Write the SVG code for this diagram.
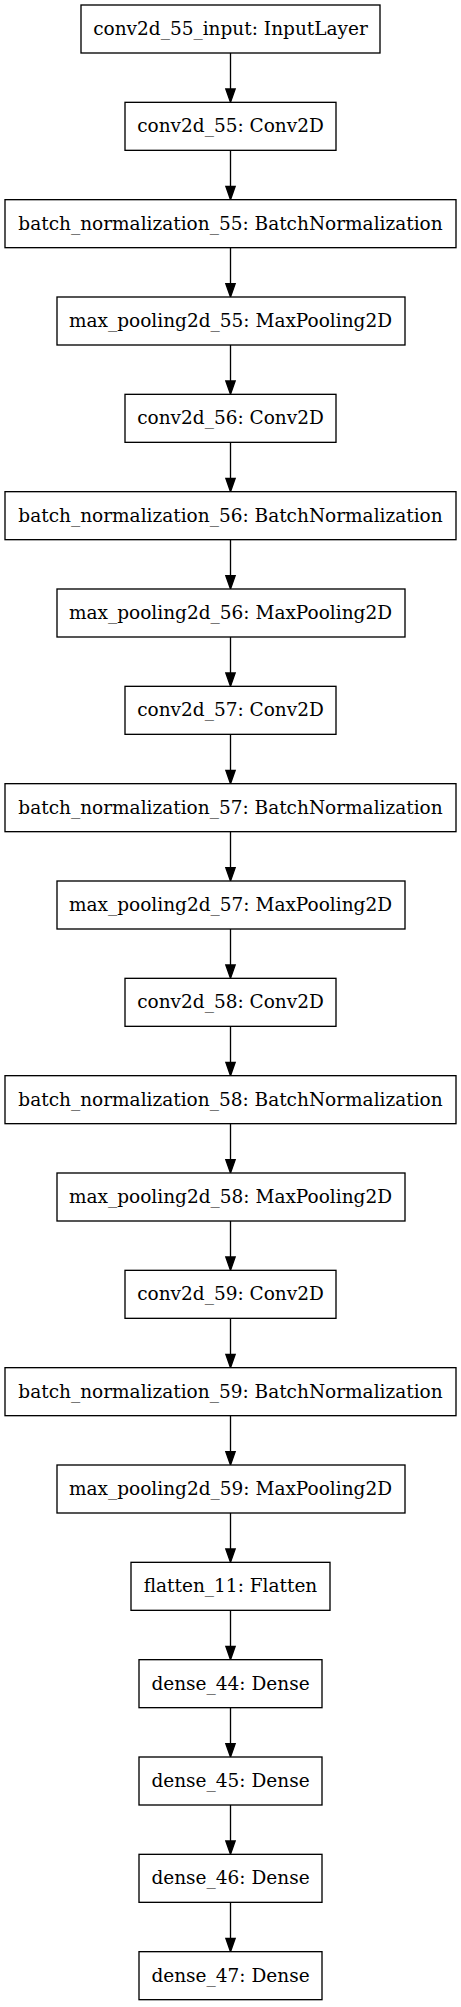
<svg xmlns="http://www.w3.org/2000/svg" width="461" height="2007" viewBox="0 0 461 2007">
<style>
.n rect{fill:#fff;stroke:#000;stroke-width:1.33}
.n text{font-family:"DejaVu Serif",serif;font-size:18.5px;text-anchor:middle;fill:#000}
.e line{stroke:#000;stroke-width:1.33}
.e polygon{fill:#000;stroke:#000;stroke-width:1.33}
</style>
<rect width="461" height="2007" fill="#fff"/>
<g id="edges" class="e">
<line x1="230.5" y1="53" x2="230.5" y2="89"/><polygon points="225.83,89 230.5,102.33 235.17,89"/>
<line x1="230.5" y1="150.33" x2="230.5" y2="186.33"/><polygon points="225.83,186.33 230.5,199.67 235.17,186.33"/>
<line x1="230.5" y1="247.67" x2="230.5" y2="283.67"/><polygon points="225.83,283.67 230.5,297 235.17,283.67"/>
<line x1="230.5" y1="345" x2="230.5" y2="381"/><polygon points="225.83,381 230.5,394.33 235.17,381"/>
<line x1="230.5" y1="442.33" x2="230.5" y2="478.33"/><polygon points="225.83,478.33 230.5,491.67 235.17,478.33"/>
<line x1="230.5" y1="539.67" x2="230.5" y2="575.67"/><polygon points="225.83,575.67 230.5,589 235.17,575.67"/>
<line x1="230.5" y1="637" x2="230.5" y2="673"/><polygon points="225.83,673 230.5,686.33 235.17,673"/>
<line x1="230.5" y1="734.33" x2="230.5" y2="770.33"/><polygon points="225.83,770.33 230.5,783.67 235.17,770.33"/>
<line x1="230.5" y1="831.67" x2="230.5" y2="867.67"/><polygon points="225.83,867.67 230.5,881 235.17,867.67"/>
<line x1="230.5" y1="929" x2="230.5" y2="965"/><polygon points="225.83,965 230.5,978.33 235.17,965"/>
<line x1="230.5" y1="1026.33" x2="230.5" y2="1062.33"/><polygon points="225.83,1062.33 230.5,1075.67 235.17,1062.33"/>
<line x1="230.5" y1="1123.67" x2="230.5" y2="1159.67"/><polygon points="225.83,1159.67 230.5,1173 235.17,1159.67"/>
<line x1="230.5" y1="1221" x2="230.5" y2="1257"/><polygon points="225.83,1257 230.5,1270.33 235.17,1257"/>
<line x1="230.5" y1="1318.33" x2="230.5" y2="1354.33"/><polygon points="225.83,1354.33 230.5,1367.67 235.17,1354.33"/>
<line x1="230.5" y1="1415.67" x2="230.5" y2="1451.67"/><polygon points="225.83,1451.67 230.5,1465 235.17,1451.67"/>
<line x1="230.5" y1="1513" x2="230.5" y2="1549"/><polygon points="225.83,1549 230.5,1562.33 235.17,1549"/>
<line x1="230.5" y1="1610.33" x2="230.5" y2="1646.33"/><polygon points="225.83,1646.33 230.5,1659.67 235.17,1646.33"/>
<line x1="230.5" y1="1707.67" x2="230.5" y2="1743.67"/><polygon points="225.83,1743.67 230.5,1757 235.17,1743.67"/>
<line x1="230.5" y1="1805" x2="230.5" y2="1841"/><polygon points="225.83,1841 230.5,1854.33 235.17,1841"/>
<line x1="230.5" y1="1902.33" x2="230.5" y2="1938.33"/><polygon points="225.83,1938.33 230.5,1951.67 235.17,1938.33"/>
</g>
<g id="n0" class="n"><rect x="81" y="5" width="299" height="48"/><text x="230.5" y="35">conv2d_55_input: InputLayer</text></g>
<g id="n1" class="n"><rect x="125" y="102.33" width="211" height="48"/><text x="230.5" y="132.33">conv2d_55: Conv2D</text></g>
<g id="n2" class="n"><rect x="5" y="199.67" width="451" height="48"/><text x="230.5" y="229.67">batch_normalization_55: BatchNormalization</text></g>
<g id="n3" class="n"><rect x="57" y="297" width="348" height="48"/><text x="230.5" y="327">max_pooling2d_55: MaxPooling2D</text></g>
<g id="n4" class="n"><rect x="125" y="394.33" width="211" height="48"/><text x="230.5" y="424.33">conv2d_56: Conv2D</text></g>
<g id="n5" class="n"><rect x="5" y="491.67" width="451" height="48"/><text x="230.5" y="521.67">batch_normalization_56: BatchNormalization</text></g>
<g id="n6" class="n"><rect x="57" y="589" width="348" height="48"/><text x="230.5" y="619">max_pooling2d_56: MaxPooling2D</text></g>
<g id="n7" class="n"><rect x="125" y="686.33" width="211" height="48"/><text x="230.5" y="716.33">conv2d_57: Conv2D</text></g>
<g id="n8" class="n"><rect x="5" y="783.67" width="451" height="48"/><text x="230.5" y="813.67">batch_normalization_57: BatchNormalization</text></g>
<g id="n9" class="n"><rect x="57" y="881" width="348" height="48"/><text x="230.5" y="911">max_pooling2d_57: MaxPooling2D</text></g>
<g id="n10" class="n"><rect x="125" y="978.33" width="211" height="48"/><text x="230.5" y="1008.33">conv2d_58: Conv2D</text></g>
<g id="n11" class="n"><rect x="5" y="1075.67" width="451" height="48"/><text x="230.5" y="1105.67">batch_normalization_58: BatchNormalization</text></g>
<g id="n12" class="n"><rect x="57" y="1173" width="348" height="48"/><text x="230.5" y="1203">max_pooling2d_58: MaxPooling2D</text></g>
<g id="n13" class="n"><rect x="125" y="1270.33" width="211" height="48"/><text x="230.5" y="1300.33">conv2d_59: Conv2D</text></g>
<g id="n14" class="n"><rect x="5" y="1367.67" width="451" height="48"/><text x="230.5" y="1397.67">batch_normalization_59: BatchNormalization</text></g>
<g id="n15" class="n"><rect x="57" y="1465" width="348" height="48"/><text x="230.5" y="1495">max_pooling2d_59: MaxPooling2D</text></g>
<g id="n16" class="n"><rect x="131" y="1562.33" width="199" height="48"/><text x="230.5" y="1592.33">flatten_11: Flatten</text></g>
<g id="n17" class="n"><rect x="139" y="1659.67" width="183" height="48"/><text x="230.5" y="1689.67">dense_44: Dense</text></g>
<g id="n18" class="n"><rect x="139" y="1757" width="183" height="48"/><text x="230.5" y="1787">dense_45: Dense</text></g>
<g id="n19" class="n"><rect x="139" y="1854.33" width="183" height="48"/><text x="230.5" y="1884.33">dense_46: Dense</text></g>
<g id="n20" class="n"><rect x="139" y="1951.67" width="183" height="48"/><text x="230.5" y="1981.67">dense_47: Dense</text></g>
</svg>
